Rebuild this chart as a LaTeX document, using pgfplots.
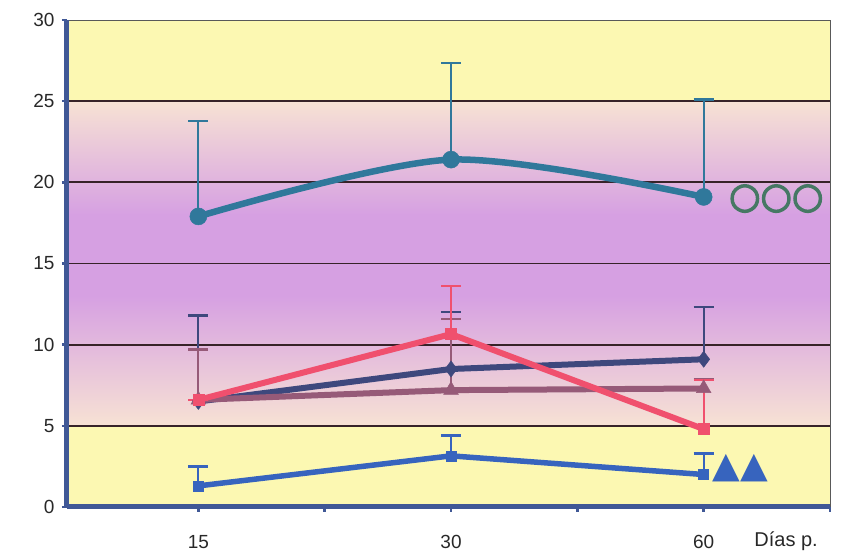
\documentclass[border=0pt]{standalone}
\usepackage{pgfplots}
\pgfplotsset{compat=1.18}
\usepackage{fontspec}
\setmainfont{Liberation Sans}
\newfontfamily\symfont{DejaVu Sans}
\newfontfamily\symbold[FakeBold=4]{DejaVu Sans}
\definecolor{bgyellow}{RGB}{252,248,178}
\definecolor{bgcream}{RGB}{247,226,212}
\definecolor{bgpurple}{RGB}{214,160,226}
\definecolor{axisblue}{RGB}{64,88,150}
\definecolor{cteal}{RGB}{48,120,155}
\definecolor{cnavy}{RGB}{62,72,125}
\definecolor{cmauve}{RGB}{150,90,120}
\definecolor{cpink}{RGB}{240,80,110}
\definecolor{cblue}{RGB}{55,100,190}
\definecolor{gridc}{RGB}{55,35,40}
\definecolor{ccirc}{RGB}{70,120,100}
\definecolor{labc}{RGB}{40,40,40}
\pgfplotsset{
  errstyle/.style={error bars/.cd, y dir=plus, y explicit,
    error bar style={line width=2.2pt},
    error mark options={rotate=90, line width=2.2pt, mark size=10pt}},
}
\begin{document}
\begin{tikzpicture}
\begin{axis}[
  set layers,
  scale only axis, width=763pt, height=487pt,
  xmin=-0.52, xmax=2.5, ymin=0, ymax=30,
  axis lines=left,
  axis line style={-, axisblue, line width=5pt},
  xtick={0,0.5,1,1.5,2,2.5},
  xticklabels={15,,30,,60,},
  ytick={0,5,10,15,20,25},
  extra y ticks={30},
  extra y tick style={grid style={gray!70!black, line width=0.8pt}},
  ymajorgrids,
  grid style={gridc, line width=1.8pt},
  tick align=outside,
  major tick length=5pt,
  tick style={axisblue, line width=2.5pt},
  /pgf/number format/assume math mode=true,
  ticklabel style={font=\fontsize{19}{19}\selectfont, text=labc},
  yticklabel style={xshift=-4pt},
  xticklabel style={anchor=base, yshift=-37pt},
  clip=false,
]
\begin{pgfonlayer}{axis background}
  \fill[bgyellow] (rel axis cs:0,0) rectangle (rel axis cs:1,1);
  \shade[top color=bgcream, bottom color=bgpurple] (axis cs:-0.52,25) rectangle (axis cs:2.5,18);
  \fill[bgpurple] (axis cs:-0.52,18) rectangle (axis cs:2.5,13);
  \shade[top color=bgpurple, bottom color=bgcream] (axis cs:-0.52,13) rectangle (axis cs:2.5,5);
  \draw[gray!70!black, line width=0.8pt] (rel axis cs:1,0) -- (rel axis cs:1,1);
\end{pgfonlayer}

% teal
\addplot[cteal, line width=6.5pt, smooth, mark=*, mark size=8.5pt,
  mark options={solid, fill=cteal, line width=0.5pt}, errstyle]
  coordinates {(0,17.9) +- (0,5.9) (1,21.4) +- (0,5.95) (2,19.1) +- (0,6.0)};

% navy
\addplot[cnavy, line width=6pt, mark=diamond*, mark size=8pt,
  mark options={solid, fill=cnavy, line width=0.5pt}, errstyle]
  coordinates {(0,6.5) +- (0,5.3) (1,8.5) +- (0,3.5) (2,9.1) +- (0,3.2)};

% mauve
\addplot[cmauve, line width=6pt, mark=triangle*, mark size=8.5pt,
  mark options={solid, fill=cmauve, line width=0.5pt}, errstyle]
  coordinates {(0,6.6) +- (0,3.1) (1,7.2) +- (0,4.4) (2,7.3) +- (0,0.6)};

% pink
\addplot[cpink, line width=6pt, mark=square*, mark size=5.5pt,
  mark options={solid, fill=cpink, line width=0.5pt}, errstyle]
  coordinates {(0,6.6) +- (0,0) (1,10.65) +- (0,2.95) (2,4.8) +- (0,3.0)};

% blue
\addplot[cblue, line width=5.5pt, mark=square*, mark size=5pt,
  mark options={solid, fill=cblue, line width=0.5pt}, errstyle]
  coordinates {(0,1.3) +- (0,1.2) (1,3.15) +- (0,1.25) (2,2.0) +- (0,1.3)};

\node[anchor=west, text=ccirc, font=\symbold\fontsize{36}{36}\selectfont, inner sep=0pt] at (axis cs:2.1,19) {○○○};
\node[anchor=west, text=cblue, font=\symfont\fontsize{36}{36}\selectfont, inner sep=0pt] at (axis cs:2.035,2.4) {▲▲};
\node[anchor=base west, text=labc, font=\fontsize{20}{20}\selectfont, inner sep=0pt] at (axis cs:2.2,0) [yshift=-40pt] {Días p.};
\end{axis}
\pgfresetboundingbox
\path ([shift={(-67pt,-47pt)}]current axis.south west) rectangle ([shift={(25pt,20pt)}]current axis.north east);
\end{tikzpicture}
\end{document}
